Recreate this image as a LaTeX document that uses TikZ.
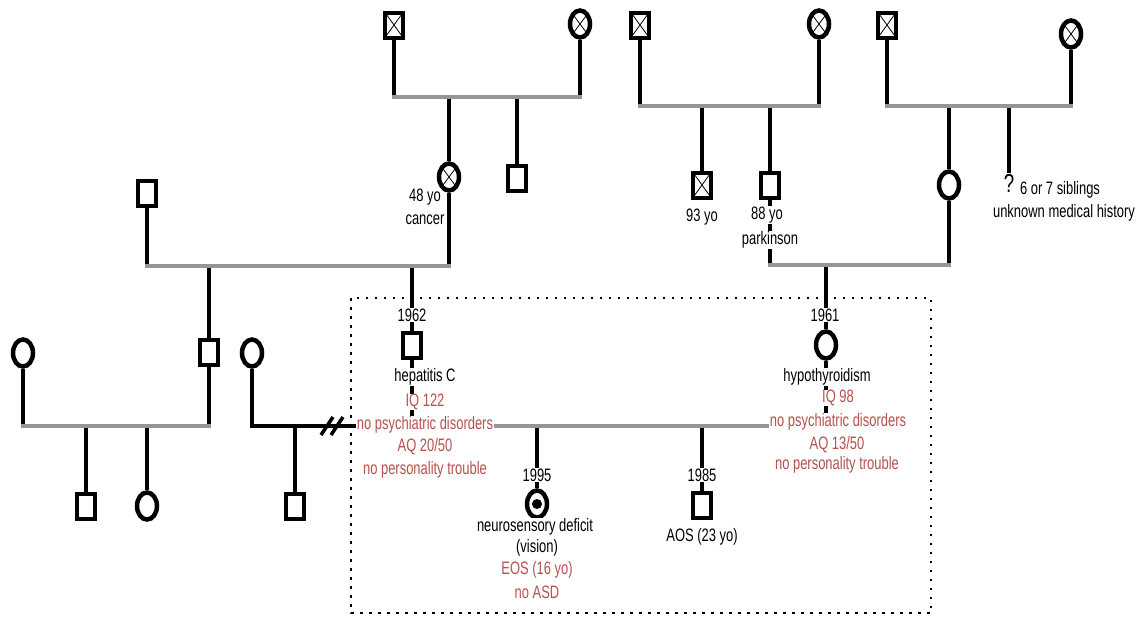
\documentclass[tikz,border=0pt]{standalone}
\usepackage{fontspec}
\setmainfont{Liberation Sans}[FakeStretch=0.72]
\usetikzlibrary{shapes.geometric,backgrounds}
\definecolor{notered}{RGB}{180,82,78}
\definecolor{linegray}{RGB}{150,150,150}

\begin{document}
\begin{tikzpicture}[
    x = 1pt, y = -1pt,
    font = \fontsize{18}{20}\selectfont,
    male/.style     = {draw,
                       fill=white,
                       line width=4pt,
                       minimum width=18pt,
                       minimum height=25pt,
                       inner sep=0pt},
    female/.style   = {ellipse,
                       draw,
                       fill=white,
                       line width=4.5pt,
                       minimum width=20pt,
                       minimum height=27pt,
                       inner sep=0pt},
    dead/.style     = {path picture={
                       \draw[line width=0.8pt]
                         (path picture bounding box.north west) -- (path picture bounding box.south east)
                         (path picture bounding box.south west) -- (path picture bounding box.north east);}},
    affected/.style = {path picture={
                       \node[circle, fill=black, inner sep=0pt, minimum size=10pt]
                         at (path picture bounding box.center) {};}},
    descent/.style  = {line width=3.5pt},
    couple/.style   = {line width=4pt,
                       draw=linegray,
                       line cap=rect},
    tag/.style      = {fill=white,
                       inner sep=0.5pt},
    note/.style     = {tag,
                       text=notered},
    frame/.style    = {line width=2pt,
                       dash pattern=on 2.5pt off 6.5pt}
]
\useasboundingbox (0,0) rectangle (1139,619);

% grandparents and their sibships
\node (ggf1) [male, dead]   at (394,25)  {};
\node (ggm1) [female, dead] at (580,24)  {};
\node (pgm)  [female, dead] at (449,177) {};
\node (unc1) [male]         at (517,178) {};
\node (ggf2) [male, dead]   at (640,25)  {};
\node (ggm2) [female, dead] at (819,24)  {};
\node (mgu)  [male, dead]   at (702,185) {};
\node (mgf)  [male]         at (770,185) {};
\node (ggf3) [male, dead]   at (887,25)  {};
\node (ggm3) [female, dead] at (1071,34) {};
\node (mgm)  [female]       at (949,185) {};
\node (pgf)  [male]         at (147,193) {};
\node (unc2) [male]         at (209,352) {};
\node (aunt) [female]       at (23,353)  {};
\node (cou1) [male]         at (86,506)  {};
\node (cou2) [female]       at (147,506) {};
\node (ex)   [female]       at (252,353) {};
\node (half) [male]         at (295,506) {};

% nuclear family
\node (fa)   [male]             at (412,345) {};
\node (mo)   [female]           at (826,345) {};
\node (dau)  [female, affected] at (537,504) {};
\node (son)  [male]             at (702,505) {};

% texts
\node (pgm-a) [tag] at (425,197) {48 yo};
\node (pgm-b) [tag] at (425,220) {cancer};
\node (mgu-a) [tag] at (702,217) {93 yo};
\node (mgf-a) [tag] at (767,215) {88 yo};
\node (mgf-b) [tag] at (770,240) {parkinson};
\node (q)     [tag, font=\fontsize{26}{28}\selectfont] at (1009,183) {?};
\node (sib-a) [tag] at (1060,190) {6 or 7 siblings};
\node (sib-b) [tag] at (1064,213) {unknown medical history};

\node (fa-yr) [tag]  at (412,315) {1962};
\node (fa-n1) [tag]  at (425,377) {hepatitis C};
\node (fa-n2) [note] at (425,402) {IQ 122};
\node (fa-n3) [note] at (425,425) {no psychiatric disorders};
\node (fa-n4) [note] at (425,447) {AQ 20/50};
\node (fa-n5) [note] at (425,470) {no personality trouble};

\node (mo-yr) [tag]  at (825,315) {1961};
\node (mo-n1) [tag]  at (827,377) {hypothyroidism};
\node (mo-n2) [note] at (838,398) {IQ 98};
\node (mo-n3) [note] at (838,422) {no psychiatric disorders};
\node (mo-n4) [note] at (837,445) {AQ 13/50};
\node (mo-n5) [note] at (837,465) {no personality trouble};

\node (dau-yr) [tag]  at (537,475) {1995};
\node (son-yr) [tag]  at (702,475) {1985};
\node (dau-n1) [tag]  at (535,527) {neurosensory deficit};
\node (dau-n2) [tag]  at (537,548) {(vision)};
\node (dau-n3) [note] at (537,570) {EOS (16 yo)};
\node (dau-n4) [note] at (537,592) {no ASD};
\node (son-n1) [tag]  at (702,537) {AOS (23 yo)};

\coordinate (s1) at (0,97);
\coordinate (s2) at (0,106);
\coordinate (s3) at (0,266);
\coordinate (s4) at (0,426);
\coordinate (s5) at (0,265);

\begin{scope}[on background layer]
% paternal side
\draw[descent] (ggf1) -- (ggf1 |- s1);
\draw[descent] (ggm1) -- (ggm1 |- s1);
\draw[descent] (pgm) -- (pgm |- s1);
\draw[descent] (unc1) -- (unc1 |- s1);
\draw[couple] (ggf1 |- s1) -- (ggm1 |- s1);
\draw[descent] (pgm) -- (pgm |- s3);
\draw[descent] (pgf) -- (pgf |- s3);
\draw[descent] (unc2) -- (unc2 |- s3);
\draw[descent] (fa) -- (fa |- s3);
\draw[couple] (pgf |- s3) -- (pgm |- s3);
\draw[descent] (unc2) -- (unc2 |- s4);
\draw[descent] (aunt) -- (aunt |- s4);
\draw[descent] (cou1) -- (cou1 |- s4);
\draw[descent] (cou2) -- (cou2 |- s4);
\draw[couple] (aunt |- s4) -- (unc2 |- s4);
\draw[descent] (ex) -- (ex |- s4) -- (fa-n3.west |- s4);
\draw[descent] (half) -- (half |- s4);
\draw[descent] (321,435) -- (333,417) (331,435) -- (343,417);
% maternal side
\draw[descent] (ggf2) -- (ggf2 |- s2);
\draw[descent] (ggm2) -- (ggm2 |- s2);
\draw[descent] (mgu) -- (mgu |- s2);
\draw[descent] (mgf) -- (mgf |- s2);
\draw[couple] (ggf2 |- s2) -- (ggm2 |- s2);
\draw[descent] (ggf3) -- (ggf3 |- s2);
\draw[descent] (ggm3) -- (ggm3 |- s2);
\draw[descent] (mgm) -- (mgm |- s2);
\draw[descent] (q) -- (q |- s2);
\draw[couple] (ggf3 |- s2) -- (ggm3 |- s2);
\draw[descent] (mgf) -- (mgf |- s5);
\draw[descent] (mgm) -- (mgm |- s5);
\draw[descent] (mo) -- (mo |- s5);
\draw[couple] (mgf |- s5) -- (mgm |- s5);
% nuclear family
\draw[descent] (fa) -- (fa |- s4);
\draw[descent] (mo) -- (mo |- s4);
\draw[descent] (dau) -- (dau |- s4);
\draw[descent] (son) -- (son |- s4);
\draw[couple] (fa-n3.east |- s4) -- (mo-n3.west |- s4);
\end{scope}

\draw[frame] (351,298) rectangle (931,613);
\end{tikzpicture}
\end{document}
